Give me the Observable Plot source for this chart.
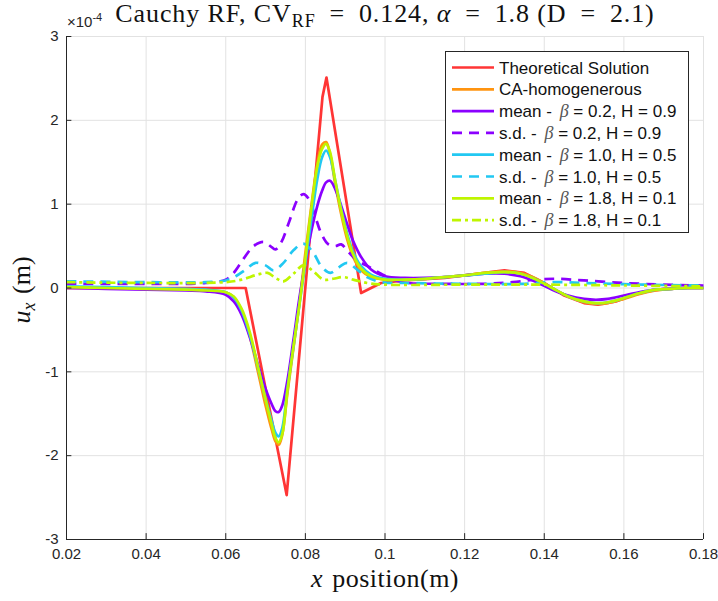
<!DOCTYPE html>
<html><head><meta charset="utf-8">
<script src="https://cdn.jsdelivr.net/npm/d3@7"></script>
<script src="https://cdn.jsdelivr.net/npm/@observablehq/plot@0.6"></script>
<style>body{margin:0;background:#fff}</style>
</head><body><div id="chart"></div>
<script>
// ---- data (u_x in units of 1e-4 m) ----
const xTicks = [0.02, 0.04, 0.06, 0.08, 0.1, 0.12, 0.14, 0.16, 0.18];
const yTicks = [-3, -2, -1, 0, 1, 2, 3];

const theoX = [0.02, 0.065, 0.0753, 0.0843, 0.0853, 0.094, 0.099, 0.105, 0.115, 0.125, 0.13, 0.135, 0.14, 0.145, 0.15, 0.1535, 0.158, 0.162, 0.166, 0.17, 0.175, 0.18];
const theoY = [0, 0, -2.47, 2.28, 2.51, -0.06, 0.06, 0.09, 0.12, 0.18, 0.21, 0.18, 0.06, -0.09, -0.18, -0.2, -0.16, -0.09, -0.04, -0.01, 0, 0];

const meanX = [0.02, 0.03, 0.04, 0.05, 0.055, 0.06, 0.062, 0.064, 0.066, 0.068, 0.07, 0.0715, 0.0725, 0.0733, 0.0742, 0.0755, 0.077, 0.0785, 0.08, 0.0815, 0.083, 0.0842, 0.0852, 0.0862, 0.0875, 0.089, 0.0905, 0.092, 0.094, 0.0965, 0.1, 0.105, 0.11, 0.115, 0.12, 0.125, 0.13, 0.134, 0.138, 0.142, 0.146, 0.15, 0.153, 0.156, 0.16, 0.164, 0.168, 0.172, 0.176, 0.18];
const caHomY = [0, 0, -0.01, -0.02, -0.03, -0.05, -0.11, -0.28, -0.57, -0.98, -1.4, -1.68, -1.83, -1.87, -1.75, -1.25, -0.72, -0.18, 0.42, 0.98, 1.48, 1.71, 1.74, 1.6, 1.24, 0.88, 0.58, 0.37, 0.21, 0.13, 0.1, 0.1, 0.11, 0.13, 0.15, 0.18, 0.2, 0.18, 0.11, 0.0, -0.1, -0.17, -0.19, -0.18, -0.13, -0.07, -0.03, -0.01, 0, 0];
const meanB02Y = [0, -0.01, -0.02, -0.03, -0.04, -0.08, -0.16, -0.32, -0.58, -0.9, -1.2, -1.38, -1.47, -1.48, -1.4, -1.1, -0.62, -0.12, 0.3, 0.68, 0.98, 1.16, 1.26, 1.28, 1.18, 0.98, 0.76, 0.56, 0.37, 0.22, 0.14, 0.12, 0.12, 0.13, 0.15, 0.17, 0.17, 0.14, 0.07, -0.02, -0.09, -0.13, -0.14, -0.13, -0.09, -0.05, -0.02, -0.01, 0, 0];
const meanB10Y = [0.02, 0.01, 0, -0.01, -0.02, -0.05, -0.11, -0.27, -0.55, -0.93, -1.32, -1.58, -1.73, -1.77, -1.67, -1.2, -0.7, -0.2, 0.3, 0.82, 1.3, 1.56, 1.64, 1.56, 1.28, 0.94, 0.65, 0.43, 0.26, 0.16, 0.11, 0.1, 0.11, 0.13, 0.15, 0.17, 0.19, 0.17, 0.1, 0.0, -0.1, -0.16, -0.18, -0.17, -0.12, -0.06, -0.02, -0.01, 0, 0];
const meanB18Y = [0.01, 0, -0.01, -0.02, -0.03, -0.05, -0.1, -0.25, -0.52, -0.92, -1.33, -1.62, -1.79, -1.84, -1.74, -1.22, -0.7, -0.2, 0.35, 0.95, 1.45, 1.66, 1.72, 1.62, 1.28, 0.92, 0.62, 0.4, 0.23, 0.14, 0.1, 0.1, 0.11, 0.13, 0.15, 0.18, 0.19, 0.17, 0.1, 0.0, -0.1, -0.16, -0.18, -0.17, -0.12, -0.06, -0.02, -0.01, 0, 0];

const sdB02X = [0.02, 0.04, 0.055, 0.06, 0.062, 0.0645, 0.067, 0.0695, 0.0712, 0.0725, 0.074, 0.076, 0.078, 0.0795, 0.081, 0.0825, 0.084, 0.0858, 0.0875, 0.089, 0.091, 0.093, 0.096, 0.099, 0.102, 0.106, 0.115, 0.125, 0.132, 0.138, 0.143, 0.15, 0.16, 0.17, 0.18];
const sdB02Y = [0.05, 0.05, 0.06, 0.1, 0.18, 0.35, 0.5, 0.55, 0.5, 0.46, 0.55, 0.8, 1.05, 1.12, 1.05, 0.85, 0.65, 0.52, 0.5, 0.52, 0.42, 0.33, 0.25, 0.17, 0.1, 0.06, 0.05, 0.05, 0.07, 0.1, 0.11, 0.09, 0.06, 0.04, 0.03];
const sdB10X = [0.02, 0.04, 0.055, 0.06, 0.0625, 0.065, 0.0675, 0.07, 0.072, 0.0745, 0.077, 0.0795, 0.082, 0.084, 0.0863, 0.0885, 0.0905, 0.093, 0.0955, 0.099, 0.105, 0.12, 0.135, 0.142, 0.15, 0.165, 0.18];
const sdB10Y = [0.08, 0.07, 0.07, 0.09, 0.14, 0.22, 0.3, 0.27, 0.21, 0.3, 0.45, 0.53, 0.42, 0.26, 0.18, 0.25, 0.3, 0.22, 0.13, 0.07, 0.06, 0.05, 0.05, 0.07, 0.06, 0.04, 0.03];
const sdB18X = [0.02, 0.04, 0.06, 0.064, 0.068, 0.0705, 0.0725, 0.0745, 0.077, 0.0795, 0.082, 0.0845, 0.087, 0.0895, 0.092, 0.0955, 0.1, 0.12, 0.14, 0.16, 0.18];
const sdB18Y = [0.07, 0.06, 0.07, 0.1, 0.16, 0.18, 0.12, 0.08, 0.17, 0.27, 0.2, 0.1, 0.11, 0.13, 0.1, 0.06, 0.04, 0.04, 0.04, 0.03, 0.02];

const legendLabels = [
  ["Theoretical Solution"],
  ["CA-homogenerous"],
  ["mean - ", "β", " = 0.2, H = 0.9"],
  ["s.d. - ", "β", " = 0.2, H = 0.9"],
  ["mean - ", "β", " = 1.0, H = 0.5"],
  ["s.d. - ", "β", " = 1.0, H = 0.5"],
  ["mean - ", "β", " = 1.8, H = 0.1"],
  ["s.d. - ", "β", " = 1.8, H = 0.1"]
];

// ---- styles ----
const RED = "#ff3535", ORANGE = "#ff9410", PURPLE = "#8b00ff", CYAN = "#22c8f2", LIME = "#bff500";
const seriesColors = [RED, ORANGE, PURPLE, PURPLE, CYAN, CYAN, LIME, LIME];
const seriesDash = [null, null, null, "10,7", null, "10,7", null, "9,4,3,4"];

const zip = (xs, ys) => xs.map((x, i) => ({x, y: ys[i]}));
const series = [
  {data: zip(theoX, theoY), curve: "linear"},
  {data: zip(meanX, caHomY), curve: "catmull-rom"},
  {data: zip(meanX, meanB02Y), curve: "catmull-rom"},
  {data: zip(sdB02X, sdB02Y), curve: "catmull-rom"},
  {data: zip(meanX, meanB10Y), curve: "catmull-rom"},
  {data: zip(sdB10X, sdB10Y), curve: "catmull-rom"},
  {data: zip(meanX, meanB18Y), curve: "catmull-rom"},
  {data: zip(sdB18X, sdB18Y), curve: "catmull-rom"}
];

const AX = "#262626";
const sans = "Liberation Sans, Arial, Helvetica, sans-serif";
const serif = "Liberation Serif, Times New Roman, serif";

const plot = Plot.plot({
  width: 718, height: 601,
  marginLeft: 66, marginRight: 15, marginTop: 36, marginBottom: 62,
  style: {fontFamily: sans, color: AX, background: "#fff"},
  x: {domain: [0.02, 0.18], axis: null},
  y: {domain: [-3, 3], axis: null},
  marks: [
    Plot.gridX(xTicks, {stroke: "#e2e2e2", strokeOpacity: 1, strokeWidth: 1}),
    Plot.gridY(yTicks, {stroke: "#e2e2e2", strokeOpacity: 1, strokeWidth: 1}),
    ...series.map((s, i) => Plot.line(s.data, {
      x: "x", y: "y", stroke: seriesColors[i], strokeWidth: 2.7,
      strokeDasharray: seriesDash[i] || undefined, curve: s.curve,
      strokeLinejoin: "round", strokeLinecap: "butt"
    })),
    Plot.ruleX([0.02], {stroke: AX, strokeWidth: 1}),
    Plot.ruleY([-3], {stroke: AX, strokeWidth: 1}),
    Plot.ruleX(xTicks, {x: d => d, y1: -3, y2: -2.93, stroke: AX}),
    Plot.ruleY(yTicks, {y: d => d, x1: 0.02, x2: 0.02135, stroke: AX}),
    Plot.text(xTicks, {x: d => d, y: -3, text: d => String(+d.toFixed(2)), dy: 15,
      fill: AX, fontSize: 15, fontFamily: sans, textAnchor: "middle"}),
    Plot.text(yTicks, {x: 0.02, y: d => d, text: d => String(d), dx: -8,
      fill: AX, fontSize: 15, fontFamily: sans, textAnchor: "end"})
  ]
});
document.getElementById("chart").appendChild(plot);

const svg = d3.select(plot);

// title
const t = svg.append("text").attr("x", 385).attr("y", 22).attr("text-anchor", "middle")
  .attr("font-family", serif).attr("font-size", 26).attr("letter-spacing", 0.9).attr("fill", "#111");
t.append("tspan").text("Cauchy RF, CV");
t.append("tspan").attr("dy", 5).attr("font-size", 18).text("RF");
t.append("tspan").attr("dy", -5).text("\u2002=\u2002" + "0.124, ");
t.append("tspan").attr("font-style", "italic").text("α");
t.append("tspan").text("\u2002=\u20021.8 (D\u2002=\u20022.1)");

// exponent
const e = svg.append("text").attr("x", 67).attr("y", 27).attr("text-anchor", "start").attr("font-family", sans)
  .attr("font-size", 15).attr("fill", AX);
e.append("tspan").text("×10");
e.append("tspan").attr("dy", -6).attr("font-size", 11).text("-4");

// y label
const yl = svg.append("text").attr("transform", "translate(30,290) rotate(-90)")
  .attr("text-anchor", "middle").attr("font-family", serif).attr("font-size", 26).attr("fill", "#111");
yl.append("tspan").attr("font-style", "italic").text("u");
yl.append("tspan").attr("font-style", "italic").attr("dy", 5).attr("font-size", 18).text("x");
yl.append("tspan").attr("dy", -5).text("\u2004(m)");

// x label
const xl = svg.append("text").attr("x", 385).attr("y", 587).attr("text-anchor", "middle")
  .attr("font-family", serif).attr("font-size", 26).attr("letter-spacing", 0.5).attr("fill", "#111");
xl.append("tspan").attr("font-style", "italic").text("x");
xl.append("tspan").text("\u2004position(m)");

// legend
const lg = svg.append("g");
lg.append("rect").attr("x", 445.5).attr("y", 51.5).attr("width", 243).attr("height", 181)
  .attr("fill", "#fff").attr("stroke", AX).attr("stroke-width", 1);
legendLabels.forEach((parts, i) => {
  const yy = 67.5 + i * 21.8;
  lg.append("line").attr("x1", 452).attr("x2", 494).attr("y1", yy).attr("y2", yy)
    .attr("stroke", seriesColors[i]).attr("stroke-width", 2.7)
    .attr("stroke-dasharray", seriesDash[i] || null);
  const tx = lg.append("text").attr("x", 499).attr("y", yy + 6).attr("text-anchor", "start")
    .attr("font-family", sans).attr("font-size", 17).attr("fill", "#111");
  parts.forEach((p, j) => {
    const ts = tx.append("tspan").text(p);
    if (p === "β") ts.attr("font-family", serif).attr("font-style", "italic").attr("fill", "#555")
      .attr("font-size", 18).attr("dx", 3);
  });
});
</script></body></html>
